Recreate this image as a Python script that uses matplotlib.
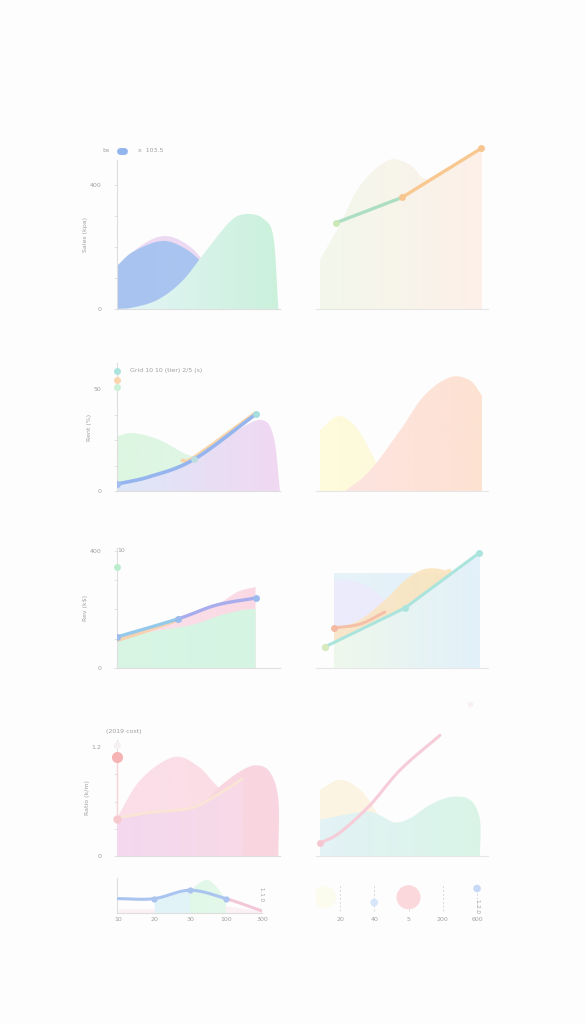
import numpy as np
import matplotlib
matplotlib.use("Agg")
import matplotlib.pyplot as plt
from matplotlib.patches import Polygon
from matplotlib.colors import to_rgb

W, H = 585, 1024
txt = "#a0a0a0"
spine = "#dedede"

# ---- data ----
# row 1 left
p1_blue_x = [0, 1, 2.7, 4, 5.2, 6.5, 7.5]
p1_blue_y = [139, 185, 219, 200, 150, 60, 0]
p1_pink_x = [0, 1.5, 3, 4.5, 5.5, 6.8]
p1_pink_y = [130, 205, 235, 200, 135, 0]
p1_green_x = [0, 1, 2.5, 4, 5.5, 7, 8, 9, 9.6, 9.9]
p1_green_y = [0, 5, 30, 90, 190, 285, 306, 290, 230, 0]
# row 1 right
p1r_area_x = [0.23, 1.4, 2.56, 4.2, 5.5, 6.3, 7.2, 8.4, 9.65]
p1r_area_y = [29, 50, 73, 88, 85, 77, 81, 88, 95]
p1r_green_x = [1.16, 5.0]
p1r_green_y = [51, 66]
p1r_orange_x = [5.0, 9.6]
p1r_orange_y = [66, 95]
# row 2 left
p2_green_x = [0, 1, 2.5, 4, 4.75, 6, 7]
p2_green_y = [27, 28.5, 25.5, 19, 16, 6, 0]
p2_purple_x = [0, 2, 4.75, 7, 8.8, 9.6, 10]
p2_purple_y = [4, 7, 16, 28, 35, 27, 0]
p2_blue_x = [0, 2.06, 4.75, 8.5]
p2_blue_y = [3.4, 7.2, 15.7, 37.7]
p2_orange_x = [4.0, 4.75, 8.5]
p2_orange_y = [15.0, 16.7, 38.4]
# row 2 right
p2r_yellow_x = [0.23, 1.28, 2.27, 3.14, 3.7, 4.3]
p2r_yellow_y = [30, 36.8, 32, 20, 10, 0]
p2r_peach_x = [1.7, 3.14, 4.9, 6.3, 7.8, 8.95, 9.65]
p2r_peach_y = [0, 10, 30, 47, 56, 54.4, 47]
# row 3 left
p3_green_x = [0, 2.06, 4.56, 6.4, 7.7, 8.5]
p3_green_y = [96, 123, 147, 181, 198, 202]
p3_pink_x = [0, 3.75, 6.1, 7.4, 8.5]
p3_pink_y = [109, 164, 216, 260, 277]
p3_blue_x = [0, 3.75, 6.1, 8.5]
p3_blue_y = [106, 168, 215, 239]
p3_orange_x = [0, 2.0, 3.75]
p3_orange_y = [94, 130, 164]
# row 3 right
p3r_lav_x = [1.05, 1.69, 2.85, 4.0, 4.9, 5.5]
p3r_lav_y = [297, 301, 284, 232, 147, 0]
p3r_yel_x = [1.05, 2.56, 4.0, 5.2, 6.3, 7.4, 8.0, 8.3]
p3r_yel_y = [130, 165, 232, 301, 338, 335, 305, 0]
p3r_blue_x = [1.05, 9.53]
p3r_blue_y = [325, 325]
p3r_teal_x = [0.52, 5.17, 9.48]
p3r_teal_y = [72, 205, 393]
p3r_orange_x = [1.05, 2.56, 4.0]
p3r_orange_y = [137, 150, 191]
# row 4 left
p4_pink1_x = [0, 1.44, 3.44, 4.9, 6.1, 7.06, 8.0, 8.6]
p4_pink1_y = [0.42, 0.84, 1.09, 1.0, 0.78, 0.62, 0.3, 0]
p4_pink2_x = [5.2, 6.4, 7.7, 8.6, 9.4, 9.9]
p4_pink2_y = [0.56, 0.78, 0.95, 1.0, 0.92, 0.62]
p4_low_x = [0, 2.06, 4.56, 6.1, 7.7]
p4_low_y = [0.42, 0.48, 0.53, 0.67, 0.85]
# row 4 right
p4r_yel_x = [0.23, 1.4, 2.56, 3.43, 4.0, 4.6]
p4r_yel_y = [0.73, 0.84, 0.73, 0.51, 0.29, 0]
p4r_low_x = [0.23, 2.8, 3.7, 4.6, 5.5, 6.6, 7.8, 8.95, 9.53]
p4r_low_y = [0.4, 0.49, 0.45, 0.37, 0.42, 0.56, 0.65, 0.62, 0.4]
p4r_line_x = [0.23, 1.4, 3.14, 4.9, 7.2]
p4r_line_y = [0.14, 0.26, 0.56, 0.95, 1.33]
# row 5
p5_labels = ["10", "20", "30", "100", "300"]
p5_line_y = [0.41, 0.41, 0.65, 0.41, 0.06]
p5_green_top = 0.94
p5r_labels = ["20", "40", "5", "200", "600"]
p5r_bubble_x = [-0.44, 1, 2, 4]
p5r_bubble_y = [0.45, 0.3, 0.45, 0.7]
p5r_bubble_s = [260, 30, 300, 30]
p5r_bubble_c = ["#fbfbee", "#d6e5f7", "#fbd8dc", "#c6d9f7"]


def smooth(x, y, n=24):
    x = np.asarray(x, float)
    y = np.asarray(y, float)
    if len(x) < 3:
        return np.linspace(x[0], x[-1], n), np.linspace(y[0], y[-1], n)
    px = np.r_[2 * x[0] - x[1], x, 2 * x[-1] - x[-2]]
    py = np.r_[2 * y[0] - y[1], y, 2 * y[-1] - y[-2]]
    t = np.linspace(0, 1, n, endpoint=False)[:, None]
    xs, ys = [], []
    for i in range(1, len(px) - 2):
        for arr, out in ((px, xs), (py, ys)):
            p0, p1_, p2_, p3_ = arr[i - 1], arr[i], arr[i + 1], arr[i + 2]
            v = 0.5 * (2 * p1_ + (-p0 + p2_) * t + (2 * p0 - 5 * p1_ + 4 * p2_ - p3_) * t ** 2
                       + (-p0 + 3 * p1_ - 3 * p2_ + p3_) * t ** 3)
            out.append(v.ravel())
    return np.r_[np.concatenate(xs), x[-1]], np.r_[np.concatenate(ys), y[-1]]


def grad_area(ax, x, y, c1, c2, z=1, alpha=1.0, smooth_it=True):
    if smooth_it:
        sx, sy = smooth(x, y)
    else:
        sx, sy = np.asarray(x, float), np.asarray(y, float)
    verts = np.column_stack([np.r_[sx[0], sx, sx[-1]], np.r_[0, sy, 0]])
    patch = Polygon(verts, closed=True, fc="none", ec="none")
    ax.add_patch(patch)
    t = np.linspace(0, 1, 256)[:, None]
    cols = (1 - t) * np.array(to_rgb(c1)) + t * np.array(to_rgb(c2))
    im = ax.imshow(cols[None, :, :], extent=[sx.min(), sx.max(), 0, sy.max()],
                   aspect="auto", origin="lower", zorder=z, alpha=alpha)
    im.set_clip_path(patch)


def sline(ax, x, y, c, lw=2.4, z=5, marks=True, ms=5):
    sx, sy = smooth(x, y)
    ax.plot(sx, sy, color=c, lw=lw, zorder=z, solid_capstyle="round")
    if marks:
        ax.plot(x, y, "o", color=c, ms=ms, zorder=z + 1, mec="none")


def make_ax(l, r, t, b):
    return fig.add_axes([l / W, 1 - b / H, (r - l) / W, (b - t) / H])


def style_left(ax, ylim, ticks, labels, ylabel):
    ax.set_xlim(0, 10)
    ax.set_ylim(*ylim)
    for s in ("top", "right"):
        ax.spines[s].set_visible(False)
    ax.spines["left"].set_color(spine)
    ax.spines["bottom"].set_color(spine)
    ax.spines["left"].set_linewidth(0.8)
    ax.spines["bottom"].set_linewidth(0.8)
    ax.set_xticks([])
    ax.set_yticks(ticks)
    ax.set_yticklabels(labels)
    ax.tick_params(axis="y", length=2.5, width=0.6, color=spine, labelsize=4.5,
                   labelcolor=txt, pad=9)
    ax.set_ylabel(ylabel, fontsize=4.5, color=txt, labelpad=1)
    ax.set_facecolor("none")


def style_right(ax, ylim):
    ax.set_xlim(0, 10)
    ax.set_ylim(*ylim)
    for s in ("top", "right", "left"):
        ax.spines[s].set_visible(False)
    ax.spines["bottom"].set_color("#e6e6e6")
    ax.spines["bottom"].set_linewidth(0.8)
    ax.set_xticks([])
    ax.set_yticks([])
    ax.set_facecolor("none")


fig = plt.figure(figsize=(W / 100, H / 100), dpi=100)
fig.patch.set_facecolor("#fdfdfd")

# ---------- row 1 ----------
ax = make_ax(117, 280, 160, 309)
grad_area(ax, p1_pink_x, p1_pink_y, "#eddaf2", "#eddaf2", z=1)
grad_area(ax, p1_blue_x, p1_blue_y, "#a9c3f1", "#acc6f1", z=2)
grad_area(ax, p1_green_x, p1_green_y, "#e4f5f7", "#cbf1dc", z=3)
style_left(ax, (0, 480), [0, 100, 200, 300, 400], ["0", "", "", "", "400"], "Sales (kpa)")
ax.text(-0.9, 510, "bs", fontsize=4.5, color=txt, va="center", clip_on=False)
ax.plot([0.2, 0.4], [510, 510], color="#93b5ee", lw=5, solid_capstyle="round", clip_on=False)
ax.text(1.3, 510, "x  103.5", fontsize=4.5, color=txt, va="center", clip_on=False)

ax = make_ax(316, 488, 140, 309)
grad_area(ax, p1r_area_x, p1r_area_y, "#f3f8ec", "#fdf0e9", z=1)
style_right(ax, (0, 100))
sline(ax, p1r_green_x, p1r_green_y, "#acdfc2", marks=False)
sline(ax, p1r_orange_x, p1r_orange_y, "#f8c890", marks=False)
ax.plot(p1r_green_x[:1], p1r_green_y[:1], "o", color="#cce7b8", ms=5, zorder=7, mec="none")
ax.plot(p1r_orange_x, p1r_orange_y, "o", color="#f7c690", ms=5, zorder=7, mec="none")

# ---------- row 2 ----------
ax = make_ax(117, 280, 363, 491)
grad_area(ax, p2_green_x, p2_green_y, "#dcf6e2", "#e1f6e6", z=1)
grad_area(ax, p2_purple_x, p2_purple_y, "#dde7f8", "#f1d8f2", z=2)
style_left(ax, (0, 63), [0, 12.5, 25, 37.5, 50], ["0", "", "", "", "50"], "Rent (%)")
sline(ax, p2_orange_x, p2_orange_y, "#f8d4a8", lw=2.6, z=4, marks=False)
sline(ax, p2_blue_x, p2_blue_y, "#96b5ef", lw=2.6, z=5, marks=False)
ax.plot(p2_blue_x[:1], p2_blue_y[:1], "o", color="#a3bdf0", ms=5, zorder=7, mec="none")
ax.plot(p2_blue_x[2:3], p2_blue_y[2:3], "o", color="#bcdde0", ms=5, zorder=7, mec="none")
ax.plot(p2_blue_x[3:], p2_blue_y[3:], "o", color="#a6dddd", ms=5, zorder=7, mec="none")
for yy, cc in zip([59.3, 54.4, 51.0], ["#ace3df", "#fbd5ad", "#cbf1d8"]):
    ax.plot([0], [yy], "o", color=cc, ms=5, mec="none", clip_on=False, zorder=8)
ax.text(0.8, 59.3, "Grid 10 10 (tier) 2/5 (s)", fontsize=4.5, color=txt, va="center",
        clip_on=False)

ax = make_ax(316, 488, 363, 491)
grad_area(ax, p2r_yellow_x, p2r_yellow_y, "#fefcdc", "#fdf8dc", z=1)
grad_area(ax, p2r_peach_x, p2r_peach_y, "#fde4e0", "#fde2d2", z=2)
style_right(ax, (0, 63))

# ---------- row 3 ----------
ax = make_ax(117, 280, 548, 668)
grad_area(ax, p3_pink_x, p3_pink_y, "#fbe3eb", "#fad9e4", z=1)
grad_area(ax, p3_green_x, p3_green_y, "#d9f6e5", "#d5f4e2", z=2)
style_left(ax, (0, 410), [0, 100, 200, 300, 400], ["0", "", "", "", "400"], "Rev (k$)")
sline(ax, p3_orange_x, p3_orange_y, "#f8d1b1", lw=2.4, z=4, marks=False)
sx, sy = smooth(p3_blue_x, p3_blue_y)
half = len(sx) // 3
ax.plot(sx[:half + 1], sy[:half + 1], color="#94c9ea", lw=2.4, zorder=5, solid_capstyle="round")
ax.plot(sx[half:], sy[half:], color="#a9acec", lw=2.4, zorder=5, solid_capstyle="round")
ax.plot([p3_blue_x[0], p3_blue_x[1], p3_blue_x[3]], [p3_blue_y[0], p3_blue_y[1], p3_blue_y[3]],
        "o", color="#9bbcec", ms=5, zorder=6, mec="none")
ax.plot([0], [345], "o", color="#b9edcb", ms=5, mec="none", clip_on=False, zorder=7)
ax.text(0.0, 400, "10", fontsize=4.5, color=txt, va="center", clip_on=False)

ax = make_ax(316, 488, 548, 668)
grad_area(ax, p3r_blue_x, p3r_blue_y, "#e6f3f8", "#e2f0fa", z=1, smooth_it=False)
grad_area(ax, p3r_lav_x, p3r_lav_y, "#ecebfc", "#ecebfc", z=2)
grad_area(ax, p3r_yel_x, p3r_yel_y, "#fbe7c4", "#fbe2b8", z=3, alpha=0.85)
# pale fill under the teal line covers the lower part
grad_area(ax, [p3r_blue_x[0], p3r_teal_x[1], p3r_blue_x[1]],
          [np.interp(p3r_blue_x[0], p3r_teal_x, p3r_teal_y), p3r_teal_y[1],
           np.interp(p3r_blue_x[1], p3r_teal_x, p3r_teal_y) - 0.1],
          "#eef8ec", "#e2f0fa", z=4, smooth_it=False)
style_right(ax, (0, 410))
sline(ax, p3r_orange_x, p3r_orange_y, "#f5c0a8", lw=2.2, z=5, marks=False)
ax.plot(p3r_orange_x[:1], p3r_orange_y[:1], "o", color="#f3b9a2", ms=5, zorder=7, mec="none")
ax.plot(p3r_teal_x, p3r_teal_y, color="#abe4dd", lw=2.2, zorder=6, solid_capstyle="round")
ax.plot(p3r_teal_x, p3r_teal_y, "o", color="#abe4dd", ms=5, zorder=7, mec="none")
ax.plot(p3r_teal_x[:1], p3r_teal_y[:1], "o", color="#d9eabb", ms=5, zorder=8, mec="none")

# ---------- row 4 ----------
ax = make_ax(117, 280, 740, 856)
grad_area(ax, p4_pink1_x, p4_pink1_y, "#fbdfe8", "#fbdde6", z=1)
grad_area(ax, p4_pink2_x + [9.9], p4_pink2_y + [0], "#f9d7e1", "#f9d5e0", z=2)
grad_area(ax, p4_low_x, p4_low_y, "#f3d8ef", "#f8dae7", z=3)
style_left(ax, (0, 1.28), [0, 0.3, 0.6, 0.9, 1.2], ["0", "", "", "", "1.2"], "Ratio (k/m)")
sline(ax, p4_low_x, p4_low_y, "#fae4d5", lw=2, z=4, marks=False)
ax.plot([0], [0.41], "o", color="#f6c9ce", ms=6, zorder=6, mec="none", clip_on=False)
ax.plot([0], [1.09], "o", color="#f6b3b3", ms=8, zorder=6, mec="none", clip_on=False)
ax.plot([0, 0], [0.41, 1.09], color="#f8d6d8", lw=1, zorder=5, clip_on=False)
ax.plot([0], [1.22], "o", color="#f7f0f2", ms=5, zorder=6, mec="none", clip_on=False)
ax.text(-0.7, 1.37, "(2019 cost)", fontsize=4.5, color=txt, va="center", clip_on=False)

ax = make_ax(316, 488, 729, 856)
grad_area(ax, p4r_yel_x, p4r_yel_y, "#fdf5e3", "#fcf3e3", z=1)
grad_area(ax, p4r_low_x + [9.53], p4r_low_y + [0], "#e3f2f7", "#d7f5e6", z=2, alpha=0.95)
style_right(ax, (0, 1.4))
sline(ax, p4r_line_x, p4r_line_y, "#f6ccd8", lw=2.2, z=5, marks=False)
ax.plot(p4r_line_x[:1], p4r_line_y[:1], "o", color="#f5c6d1", ms=5, zorder=6, mec="none")
ax.plot([8.95], [1.68], "o", color="#f7f1f3", ms=4, zorder=6, mec="none", clip_on=False)

# ---------- row 5 ----------
ax = make_ax(117, 262, 878, 913)
xs = np.arange(len(p5_labels))
ax.fill_between([1, 2], 0, [p5_line_y[1], p5_line_y[2]], color="#e2f3f8", zorder=1, lw=0)
grad_area(ax, [2, 2.5, 3], [p5_line_y[2], p5_green_top, p5_line_y[3]], "#e0f8e8", "#e4f8ea", z=1)
ax.fill_between([0, 1, 3, 4], 0, [0.12, 0.12, 0.2, 0.06], color="#fbf0f4", zorder=0, lw=0)
sx, sy = smooth(xs, p5_line_y)
cut = np.searchsorted(sx, 3.0)
ax.plot(sx[:cut + 1], sy[:cut + 1], color="#aac4f0", lw=2.2, zorder=5, solid_capstyle="round")
ax.plot(sx[cut:], sy[cut:], color="#f3c6d8", lw=2.2, zorder=5, solid_capstyle="round")
ax.plot(xs[1:4], p5_line_y[1:4], "o", color="#aac4f0", ms=4.5, zorder=6, mec="none")
ax.set_xlim(-0.03, 4.0)
ax.set_ylim(0, 1)
for s in ("top", "right"):
    ax.spines[s].set_visible(False)
ax.spines["left"].set_color(spine)
ax.spines["bottom"].set_color(spine)
ax.set_yticks([])
ax.set_xticks(xs)
ax.set_xticklabels(p5_labels)
ax.tick_params(axis="x", length=0, labelsize=4.5, labelcolor=txt, pad=3)
ax.text(4.0, 0.55, "1.1 0", fontsize=4, color=txt, rotation=270, va="center", ha="center",
        clip_on=False)
ax.set_facecolor("none")

ax = make_ax(316, 488, 878, 913)
for xi in range(len(p5r_labels)):
    ax.plot([xi, xi], [0.05, 0.8], color="#d8d8d8", lw=0.7, ls=(0, (2, 2)), zorder=1)
ax.scatter(p5r_bubble_x, p5r_bubble_y, s=p5r_bubble_s, c=p5r_bubble_c, zorder=3, linewidths=0)
ax.set_xlim(-0.7, 4.32)
ax.set_ylim(0, 1)
for s in ax.spines.values():
    s.set_visible(False)
ax.set_yticks([])
ax.set_xticks(range(len(p5r_labels)))
ax.set_xticklabels(p5r_labels)
ax.tick_params(axis="x", length=0, labelsize=4.5, labelcolor=txt, pad=3)
ax.text(4.0, 0.2, "1.2 0", fontsize=4, color=txt, rotation=270, va="center", ha="center",
        clip_on=False)
ax.set_facecolor("none")

fig.savefig("out.png", dpi=100, facecolor=fig.get_facecolor())
